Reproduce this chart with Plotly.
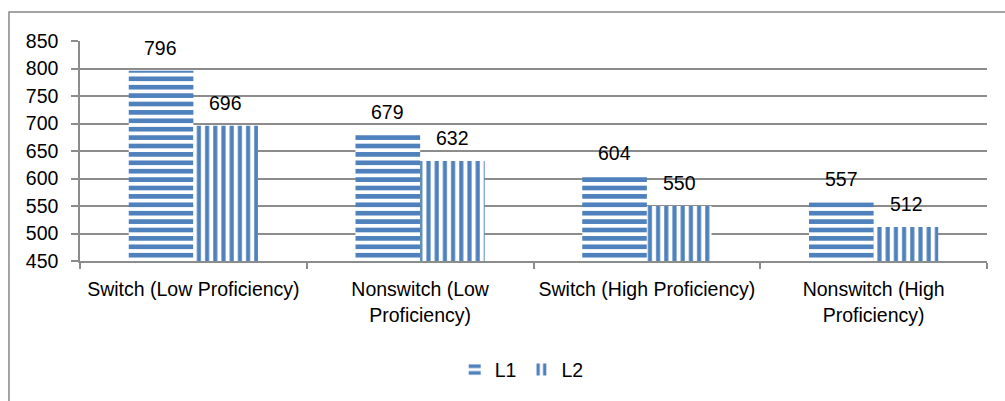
import plotly.graph_objects as go

# Reaction-time means by condition and language
categories = [
    "Switch (Low Proficiency)",
    "Nonswitch (Low<br>Proficiency)",
    "Switch (High Proficiency)",
    "Nonswitch (High<br>Proficiency)",
]
l1_values = [796, 679, 604, 557]
l2_values = [696, 632, 550, 512]
series_names = ["L1", "L2"]

BLUE = "#4F81BD"
GRID = "#8C8C8C"
FONT = "Liberation Sans, Arial, sans-serif"
FS = 19.5

fig = go.Figure()
fig.add_trace(go.Bar(
    x=categories, y=l1_values, name=series_names[0],
    marker=dict(color=BLUE, line=dict(width=0),
                pattern=dict(shape="-", size=8.4, solidity=0.55,
                             fgcolor=BLUE, bgcolor="white", fillmode="replace")),
))
fig.add_trace(go.Bar(
    x=categories, y=l2_values, name=series_names[1],
    marker=dict(color=BLUE, line=dict(width=0),
                pattern=dict(shape="|", size=8.2, solidity=0.5,
                             fgcolor=BLUE, bgcolor="white", fillmode="replace")),
))

# Value labels above each bar
for vals, shift in ((l1_values, -32.5), (l2_values, 32.5)):
    for cat, v in zip(categories, vals):
        fig.add_annotation(
            x=cat, y=v, text=str(v), showarrow=False,
            xshift=shift, yshift=23, yanchor="middle",
            font=dict(family=FONT, size=FS, color="black"),
        )

# Outer chart border
fig.add_shape(
    type="rect", xref="paper", yref="paper",
    x0=-0.0783, x1=1.05, y0=-0.70, y1=1.1318,
    line=dict(color="#878787", width=1.5), fillcolor="rgba(0,0,0,0)",
    layer="below",
)

fig.update_layout(
    width=1005, height=401,
    margin=dict(l=80, r=18, t=41, b=140),
    paper_bgcolor="white", plot_bgcolor="white",
    barmode="group", bargap=0.43, bargroupgap=0,
    font=dict(family=FONT, size=FS, color="black"),
    showlegend=True,
    legend=dict(orientation="h", x=0.487, y=-0.495,
                xanchor="center", yanchor="middle",
                font=dict(family=FONT, size=FS),
                itemwidth=30, tracegroupgap=0),
    xaxis=dict(
        type="category", tickson="boundaries", ticks="outside",
        ticklen=6, tickwidth=1.5, tickcolor=GRID,
        showline=True, linecolor=GRID, linewidth=1.5,
        showgrid=False, tickfont=dict(family=FONT, size=FS),
        ticklabelstandoff=10,
    ),
    yaxis=dict(
        range=[450, 850], dtick=50, tick0=450,
        ticks="outside", ticklen=7, tickwidth=1.5, tickcolor=GRID,
        showline=True, linecolor=GRID, linewidth=1.5,
        showgrid=True, gridcolor=GRID, gridwidth=1.5,
        zeroline=False, tickfont=dict(family=FONT, size=FS),
        ticklabelstandoff=9,
    ),
)

fig.write_html("out.html")
